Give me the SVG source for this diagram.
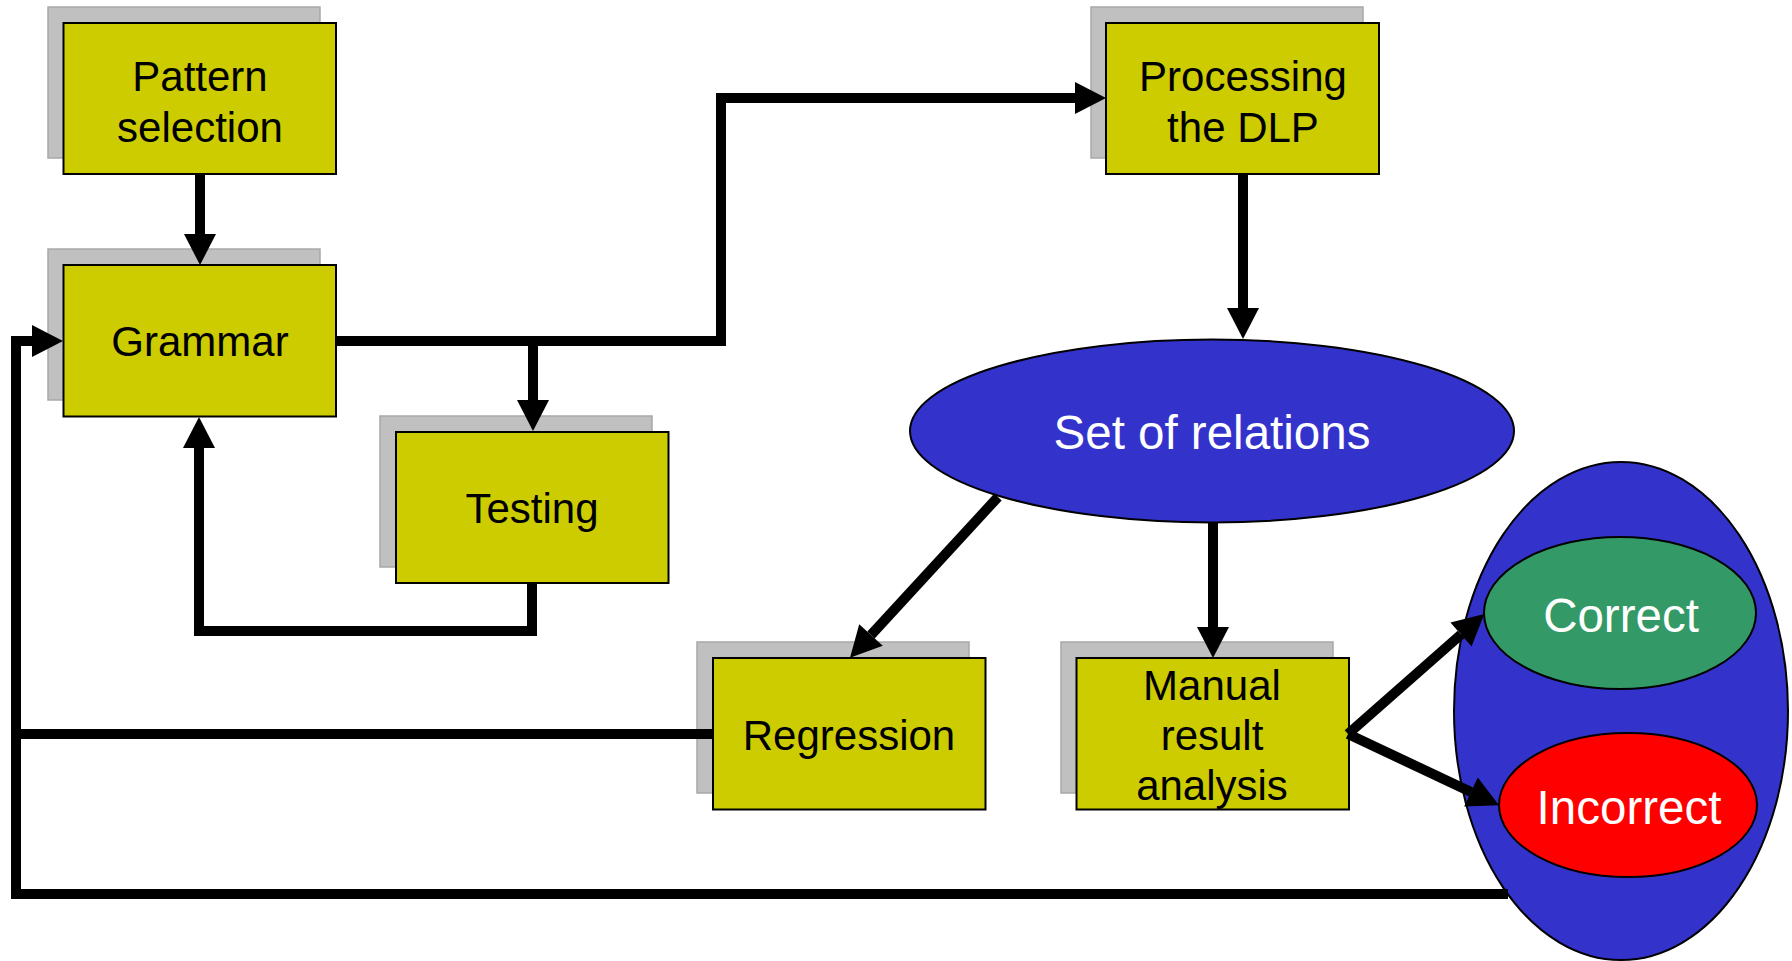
<svg xmlns="http://www.w3.org/2000/svg" width="1792" height="961" viewBox="0 0 1792 961">
  <style>
    .shadow { fill: #c0c0c0; stroke: #a8a8a8; stroke-width: 1.5; }
    .box { fill: #cccc00; stroke: #000; stroke-width: 2; }
    .lbl { font-family: "Liberation Sans", Arial, sans-serif; font-size: 42px; fill: #000; text-anchor: middle; }
    .wlbl { font-family: "Liberation Sans", Arial, sans-serif; font-size: 47.5px; fill: #fff; text-anchor: middle; }
    .ell { stroke: #000; stroke-width: 2; }
    .wire { fill: none; stroke: #000; stroke-width: 10; stroke-linejoin: miter; stroke-linecap: butt; }
  </style>
  <defs>
    <marker id="head" markerUnits="userSpaceOnUse" viewBox="0 -17 32 34" refX="0" refY="0" markerWidth="32" markerHeight="34" orient="auto" overflow="visible">
      <path d="M0,-16 L31,0 L0,16 z" fill="#000"/>
    </marker>
  </defs>
  <rect width="1792" height="961" fill="#fff"/>

  <!-- outcome container -->
  <g id="outcome">
    <ellipse class="ell" cx="1621" cy="711" rx="167" ry="249" fill="#3333cc"/>
  </g>
  <g id="correct">
    <ellipse class="ell" cx="1620" cy="613" rx="136" ry="76" fill="#339966"/>
    <text class="wlbl" x="1621" y="632">Correct</text>
  </g>
  <g id="incorrect">
    <ellipse class="ell" cx="1628" cy="805" rx="129" ry="72" fill="#ff0000"/>
    <text class="wlbl" x="1629" y="824">Incorrect</text>
  </g>

  <g id="pattern-selection">
    <rect class="shadow" x="48" y="7" width="272" height="151"/>
    <rect class="box" x="63.5" y="23" width="272.5" height="151"/>
    <text class="lbl" x="200" y="91">Pattern</text>
    <text class="lbl" x="200" y="142">selection</text>
  </g>
  <g id="grammar">
    <rect class="shadow" x="48" y="249" width="272" height="151"/>
    <rect class="box" x="63.5" y="265" width="272.5" height="151.5"/>
    <text class="lbl" x="200" y="356">Grammar</text>
  </g>
  <g id="testing">
    <rect class="shadow" x="380" y="416" width="272" height="151"/>
    <rect class="box" x="396" y="432" width="272.5" height="151"/>
    <text class="lbl" x="532" y="523">Testing</text>
  </g>
  <g id="processing">
    <rect class="shadow" x="1091" y="7" width="272" height="151"/>
    <rect class="box" x="1106" y="23" width="273" height="151"/>
    <text class="lbl" x="1243" y="91">Processing</text>
    <text class="lbl" x="1243" y="142">the DLP</text>
  </g>
  <g id="set-of-relations">
    <ellipse class="ell" cx="1212" cy="431" rx="302" ry="91.5" fill="#3333cc"/>
    <text class="wlbl" x="1212" y="449">Set of relations</text>
  </g>
  <g id="regression">
    <rect class="shadow" x="697" y="642" width="272" height="151"/>
    <rect class="box" x="713" y="658" width="272.5" height="151.5"/>
    <text class="lbl" x="849" y="750">Regression</text>
  </g>
  <g id="manual-analysis">
    <rect class="shadow" x="1061" y="642" width="272" height="151"/>
    <rect class="box" x="1076.5" y="658" width="272.5" height="151.5"/>
    <text class="lbl" x="1212" y="700">Manual</text>
    <text class="lbl" x="1212" y="750">result</text>
    <text class="lbl" x="1212" y="800">analysis</text>
  </g>

  <g id="connectors">
    <!-- pattern selection to grammar -->
    <path class="wire" d="M200,175 V234" marker-end="url(#head)"/>
    <!-- grammar to processing -->
    <path class="wire" d="M337,341 H721 V98 H1075" marker-end="url(#head)"/>
    <!-- grammar to testing -->
    <path class="wire" d="M533,336 V400" marker-end="url(#head)"/>
    <!-- testing back to grammar -->
    <path class="wire" d="M532,584 V631 H199 V448" marker-end="url(#head)"/>
    <!-- processing to set of relations -->
    <path class="wire" d="M1243,175 V308" marker-end="url(#head)"/>
    <!-- set of relations to regression -->
    <path class="wire" d="M998,497 L871,635" marker-end="url(#head)"/>
    <!-- set of relations to manual analysis -->
    <path class="wire" d="M1213,522 V627" marker-end="url(#head)"/>
    <!-- manual analysis to outcomes -->
    <path class="wire" d="M1348,734 L1461,634.5" marker-end="url(#head)"/>
    <path class="wire" d="M1348,734 L1471,792" marker-end="url(#head)"/>
    <!-- feedback loop into grammar -->
    <path class="wire" d="M713,734 H11"/>
    <path class="wire" d="M1508,894 H16 V341 H32" marker-end="url(#head)"/>
  </g>
</svg>
